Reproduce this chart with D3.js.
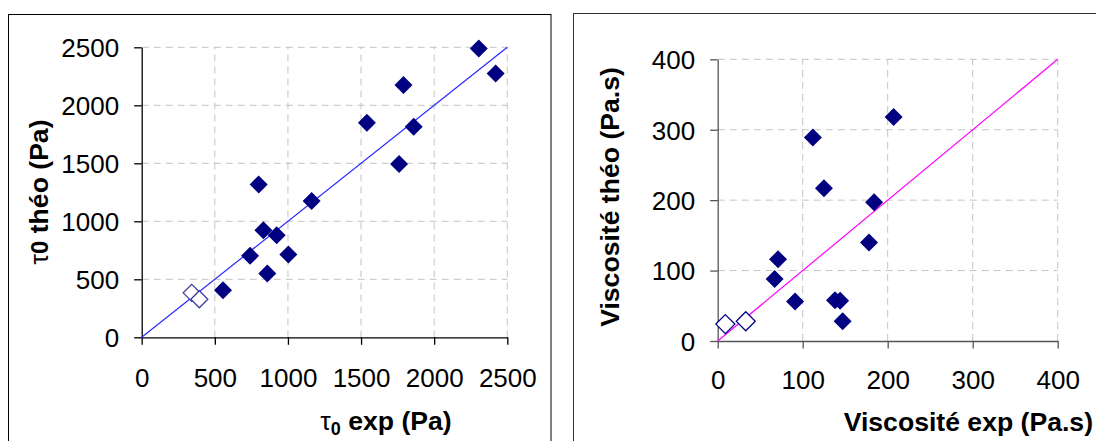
<!DOCTYPE html>
<html><head><meta charset="utf-8">
<script src="https://cdn.jsdelivr.net/npm/d3@7"></script>
<style>body{margin:0;background:#fff}svg{display:block}text{font-family:"Liberation Sans",Arial,sans-serif}</style>
</head><body>
<svg id="c" width="1096" height="441"></svg>
<script>
// Left chart: tau0
const tauTicks = [0, 500, 1000, 1500, 2000, 2500];
const tauExpFilled  = [2305, 2420, 1790, 1540, 1860, 1760, 800, 1162, 832, 923, 741, 1003, 859, 556];
const tauTheoFilled = [2490, 2275, 2175, 1850, 1815, 1495, 1318, 1174, 923, 880, 702, 713, 549, 406];
const tauExpOpen  = [342, 394];
const tauTheoOpen = [383, 328];
const tauLine = [0, 2500];
// Right chart: viscosity
const viscTicks = [0, 100, 200, 300, 400];
const viscExpFilled  = [207, 112, 125, 184, 178, 71, 67, 91, 138, 144, 147];
const viscTheoFilled = [318, 289, 217, 197, 140, 116, 88, 56, 58, 57, 28];
const viscExpOpen  = [9, 33];
const viscTheoOpen = [24, 28];
const viscLine = [0, 400];

const svg = d3.select("#c");
// frames
svg.append("rect").attr("x",8.5).attr("y",14.5).attr("width",542.5).attr("height",460)
  .attr("fill","none").attr("stroke","#000");
svg.append("rect").attr("x",573.5).attr("y",13.5).attr("width",560).attr("height",460)
  .attr("fill","none").attr("stroke","#333");

function diamond(g, x, y, r, fill, stroke){
  g.append("path").attr("d",`M${x},${y-r}L${x+r},${y}L${x},${y+r}L${x-r},${y}Z`)
   .attr("fill",fill).attr("stroke",stroke).attr("stroke-width",stroke==="none"?0:1.3);
}

function chart(o){
  const g = svg.append("g");
  const x = d3.scaleLinear().domain(o.domain).range([o.x0, o.x1]);
  const y = d3.scaleLinear().domain(o.domain).range([o.y0, o.y1]);
  // grid
  o.ticks.slice(1).forEach(t=>{
    g.append("line").attr("x1",x(t)).attr("x2",x(t)).attr("y1",o.y0).attr("y2",o.y1)
     .attr("stroke","#c4c4c4").attr("stroke-dasharray","7,5");
    g.append("line").attr("x1",o.x0).attr("x2",o.x1).attr("y1",y(t)).attr("y2",y(t))
     .attr("stroke","#c4c4c4").attr("stroke-dasharray","7,5");
  });
  // axes
  const fmt = d3.format("d");
  const ax = g.append("g").attr("transform",`translate(0,${o.y0})`)
    .call(d3.axisBottom(x).tickValues(o.ticks).tickFormat(fmt).tickSize(7.5).tickSizeOuter(0));
  const ay = g.append("g").attr("transform",`translate(${o.x0},0)`)
    .call(d3.axisLeft(y).tickValues(o.ticks).tickFormat(fmt).tickSize(7.5).tickSizeOuter(0));
  [ax,ay].forEach(a=>{
    a.select(".domain").attr("stroke",o.axisColor).attr("stroke-width",1.3);
    a.selectAll(".tick line").attr("stroke",o.axisColor).attr("stroke-width",1.3);
    a.selectAll(".tick text").attr("font-size",26).attr("fill","#000")
      .style("font-family","'Liberation Sans',Arial,sans-serif");
  });
  ax.selectAll(".tick text").attr("y",o.xLabelBase).attr("dy",0);
  ay.selectAll(".tick text").attr("x",-22.5).attr("dy","0.36em");
  // identity line
  g.append("line").attr("x1",x(o.line[0])).attr("y1",y(o.line[0]))
   .attr("x2",x(o.line[1])).attr("y2",y(o.line[1]))
   .attr("stroke",o.lineColor).attr("stroke-width",1.2);
  // points
  o.xo.forEach((v,i)=>diamond(g, x(v), y(o.yo[i]), o.ro, "#fff", o.openStroke));
  o.xf.forEach((v,i)=>diamond(g, x(v), y(o.yf[i]), 9, "#000080", "none"));
  return {x,y};
}

chart({domain:[0,2500], ticks:tauTicks, x0:141.7, x1:507.3, y0:337.3, y1:47.3, xLabelBase:49.4,
  xf:tauExpFilled, yf:tauTheoFilled, xo:tauExpOpen, yo:tauTheoOpen, line:tauLine, ro:8.5,
  lineColor:"#2a2aff", openStroke:"#3c3ca0", axisColor:"#000"});
chart({domain:[0,400], ticks:viscTicks, x0:717.7, x1:1057.7, y0:341, y1:59.3, xLabelBase:48.3,
  xf:viscExpFilled, yf:viscTheoFilled, xo:viscExpOpen, yo:viscTheoOpen, line:viscLine, ro:9.5,
  lineColor:"#ff00ff", openStroke:"#000080", axisColor:"#555"});

// axis titles
const t1 = svg.append("text").attr("transform","translate(48,192) rotate(-90)")
  .attr("text-anchor","middle").attr("font-size",26.6).attr("font-weight","bold");
t1.append("tspan").text("τ").attr("font-weight","normal");
t1.append("tspan").text("0").attr("font-size",24);
t1.append("tspan").text(" théo (Pa)");

const t2 = svg.append("text").attr("x",386).attr("y",430)
  .attr("text-anchor","middle").attr("font-size",26.6).attr("font-weight","bold");
t2.append("tspan").text("τ").attr("font-weight","normal");
t2.append("tspan").text("0").attr("font-size",18).attr("dy",5);
t2.append("tspan").text(" exp (Pa)").attr("dy",-5);

svg.append("text").attr("transform","translate(619,197) rotate(-90)")
  .attr("text-anchor","middle").attr("font-size",26.6).attr("font-weight","bold")
  .text("Viscosité théo (Pa.s)");
svg.append("text").attr("x",1093).attr("y",431)
  .attr("text-anchor","end").attr("font-size",26.6).attr("font-weight","bold")
  .text("Viscosité exp (Pa.s)");
</script>
</body></html>
